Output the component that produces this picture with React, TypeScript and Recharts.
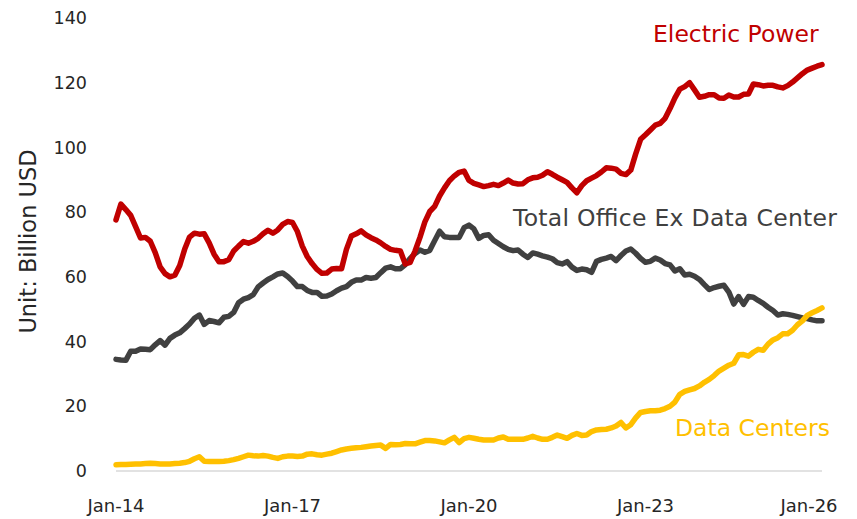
import { LineChart, Line, XAxis, YAxis } from 'recharts'

const MONTH_NAMES = ['Jan', 'Feb', 'Mar', 'Apr', 'May', 'Jun', 'Jul', 'Aug', 'Sep', 'Oct', 'Nov', 'Dec']
const YEARS = ['14', '15', '16', '17', '18', '19', '20', '21', '22', '23', '24', '25']
const MONTHS: string[] = [...YEARS.flatMap((y) => MONTH_NAMES.map((m) => `${m}-${y}`)), 'Jan-26']

const X_TICKS = ['Jan-14', 'Jan-17', 'Jan-20', 'Jan-23', 'Jan-26']
const Y_TICKS = [0, 20, 40, 60, 80, 100, 120, 140]

// Billion USD, monthly Jan-14 .. Jan-26
const ELECTRIC_POWER = [
  77.6, 82.5, 80.8, 79, 75.5, 72, 72.2, 71, 67.5, 63.1, 61, 60,
  60.5, 63.5, 68.5, 72.3, 73.5, 73.2, 73.3, 70.5, 67, 64.7, 64.7, 65.3,
  68, 69.5, 70.9, 70.4, 71, 71.9, 73.3, 74.4, 73.5, 74.5, 76.2, 77.1,
  76.8, 74, 69.5, 66.3, 64.1, 62.3, 61.1, 61.2, 62.4, 62.6, 62.5, 68.5,
  72.6, 73.3, 74.2, 73, 72.1, 71.4, 70.5, 69.4, 68.5, 68.2, 68, 64,
  64.5, 68, 72.2, 77, 80.2, 81.8, 85, 87.5, 89.7, 91.2, 92.3, 92.7,
  89.8, 88.9, 88.4, 87.9, 88.2, 88.6, 88.2, 89, 89.9, 89, 88.7, 88.8,
  90, 90.6, 90.8, 91.4, 92.5, 91.7, 90.8, 90, 89.2, 87.5, 86, 88.2,
  89.7, 90.5, 91.3, 92.4, 93.7, 93.6, 93.3, 92, 91.6, 93, 98, 102.5,
  103.9, 105.4, 106.9, 107.4, 109, 112, 115.3, 118, 118.8, 120, 117.8, 115.5,
  115.8, 116.3, 116.3, 115.3, 115.2, 116.2, 115.6, 115.6, 116.4, 116.5, 119.6, 119.4,
  119, 119.2, 119.2, 118.7, 118.4, 119.1, 120.2, 121.5, 122.8, 123.9, 124.5, 125.1,
  125.6,
]

const OFFICE_EX_DC = [
  34.5, 34.3, 34.2, 37, 37, 37.7, 37.6, 37.5, 39, 40.3, 38.9, 41,
  42, 42.7, 44, 45.4, 47.2, 48.2, 45.3, 46.5, 46.2, 45.8, 47.5, 47.8,
  49, 52, 53.1, 53.6, 54.5, 56.9, 58.1, 59.2, 60, 60.9, 61.2, 60.1,
  58.7, 57, 57, 55.8, 55.2, 55.2, 54, 54.1, 54.7, 55.7, 56.5, 57,
  58.3, 59, 59, 59.8, 59.6, 59.8, 61.3, 62.7, 63.1, 62.5, 62.5, 63.8,
  65.7, 67.2, 68.3, 67.6, 68.2, 71.2, 74.1, 72.4, 72.2, 72.2, 72.2, 75.2,
  76, 74.8, 71.9, 72.8, 73, 71.3, 70.3, 69.3, 68.5, 68.1, 68.3, 67,
  66, 67.4, 67, 66.5, 66.1, 65.6, 64.4, 64, 64.7, 63, 62, 62.4,
  62.2, 61.4, 64.8, 65.4, 65.8, 66.3, 65, 66.6, 68, 68.6, 67.3, 65.7,
  64.5, 64.8, 65.8, 65.2, 64.1, 63.7, 61.8, 62.5, 60.6, 60.8, 60.2, 59.2,
  57.6, 56.1, 56.7, 57.1, 57.4, 55.3, 51.6, 53.9, 51.5, 53.9, 53.7, 52.7,
  51.8, 50.6, 49.6, 48.2, 48.6, 48.4, 48.1, 47.7, 47.3, 47.1, 46.7, 46.4,
  46.4,
]

const DATA_CENTERS = [
  1.9, 2.0, 2.0, 2.1, 2.2, 2.2, 2.3, 2.4, 2.3, 2.2, 2.2, 2.2,
  2.3, 2.4, 2.6, 3.0, 3.8, 4.4, 3.0, 2.9, 2.9, 2.9, 3.0, 3.2,
  3.5, 3.9, 4.4, 4.9, 4.7, 4.6, 4.8, 4.6, 4.2, 3.9, 4.4, 4.6,
  4.6, 4.5, 4.6, 5.2, 5.3, 5.0, 4.9, 5.2, 5.5, 6.0, 6.5, 6.8,
  7.0, 7.2, 7.3, 7.5, 7.7, 7.9, 8.0, 7.0, 8.2, 8.1, 8.2, 8.5,
  8.4, 8.4, 8.9, 9.4, 9.4, 9.3, 9.0, 8.7, 9.6, 10.4, 8.8, 10.0,
  10.4, 10.1, 9.8, 9.6, 9.6, 9.6, 10.2, 10.5, 9.8, 9.8, 9.8, 9.8,
  10.2, 10.7, 10.2, 9.8, 9.8, 10.4, 11.1, 10.6, 10.1, 11.0, 11.6, 11.0,
  11.1, 12.2, 12.7, 12.8, 12.9, 13.3, 13.9, 15.0, 13.3, 14.3, 16.4, 18.1,
  18.4, 18.6, 18.6, 18.8, 19.3, 20.0, 21.3, 23.7, 24.6, 25.1, 25.5, 26.3,
  27.4, 28.3, 29.5, 30.9, 31.8, 32.7, 33.3, 35.9, 36.0, 35.5, 36.7, 37.6,
  37.3, 39.2, 40.5, 41.2, 42.4, 42.4, 43.5, 45.2, 46.4, 48.1, 48.9, 49.6,
  50.4,
]

const data = MONTHS.map((month, i) => ({
  month,
  electric: ELECTRIC_POWER[i],
  office: OFFICE_EX_DC[i],
  dataCenters: DATA_CENTERS[i],
}))

const FONT = '"DejaVu Sans", sans-serif'
const RED = '#C00000'
const GREY = '#404040'
const GOLD = '#FFC000'

const XTick = ({ x, y, payload }: any) => {
  // Excel nudges the last label inwards
  const shift = payload.value === 'Jan-26' ? -13 : 0
  return (
    <text x={x + shift} y={y + 38.5} textAnchor="middle" fontSize={18} fontFamily={FONT} fill="#262626">
      {payload.value}
    </text>
  )
}

export default function App() {
  return (
    <div style={{ position: 'relative', width: 857, height: 519, background: '#fff', fontFamily: FONT }}>
      <style>{'body{margin:0}'}</style>
      <LineChart width={857} height={519} data={data} margin={{ top: 18, right: 35, bottom: 0, left: 0 }}>
        <XAxis
          dataKey="month"
          ticks={X_TICKS}
          interval={0}
          height={48}
          tick={<XTick />}
          tickLine={false}
          tickSize={0}
          axisLine={{ stroke: '#D9D9D9', strokeWidth: 1.5 }}
        />
        <YAxis
          width={116}
          domain={[0, 140]}
          ticks={Y_TICKS}
          axisLine={false}
          tickLine={false}
          tickSize={0}
          tickMargin={29}
          tick={{ fill: '#262626', fontSize: 17.5, fontFamily: FONT }}
        />
        <Line type="linear" dataKey="office" stroke={GREY} strokeWidth={5.5} dot={false}
          strokeLinejoin="round" strokeLinecap="round" isAnimationActive={false} />
        <Line type="linear" dataKey="electric" stroke={RED} strokeWidth={5.5} dot={false}
          strokeLinejoin="round" strokeLinecap="round" isAnimationActive={false} />
        <Line type="linear" dataKey="dataCenters" stroke={GOLD} strokeWidth={5.5} dot={false}
          strokeLinejoin="round" strokeLinecap="round" isAnimationActive={false} />
      </LineChart>
      <svg width={857} height={519} style={{ position: 'absolute', left: 0, top: 0, pointerEvents: 'none' }}>
        <g fontFamily={FONT} fontSize={23.5}>
          <text x={653} y={41.7} fill={RED}>Electric Power</text>
          <text x={513} y={226} fill={GREY} textLength={324}>Total Office Ex Data Center</text>
          <text x={675} y={436} fill={GOLD}>Data Centers</text>
        </g>
        <text transform="translate(36,241.5) rotate(-90)" textAnchor="middle" fontFamily={FONT}
          fontSize={22.5} fill="#262626">
          Unit: Billion USD
        </text>
      </svg>
    </div>
  )
}
